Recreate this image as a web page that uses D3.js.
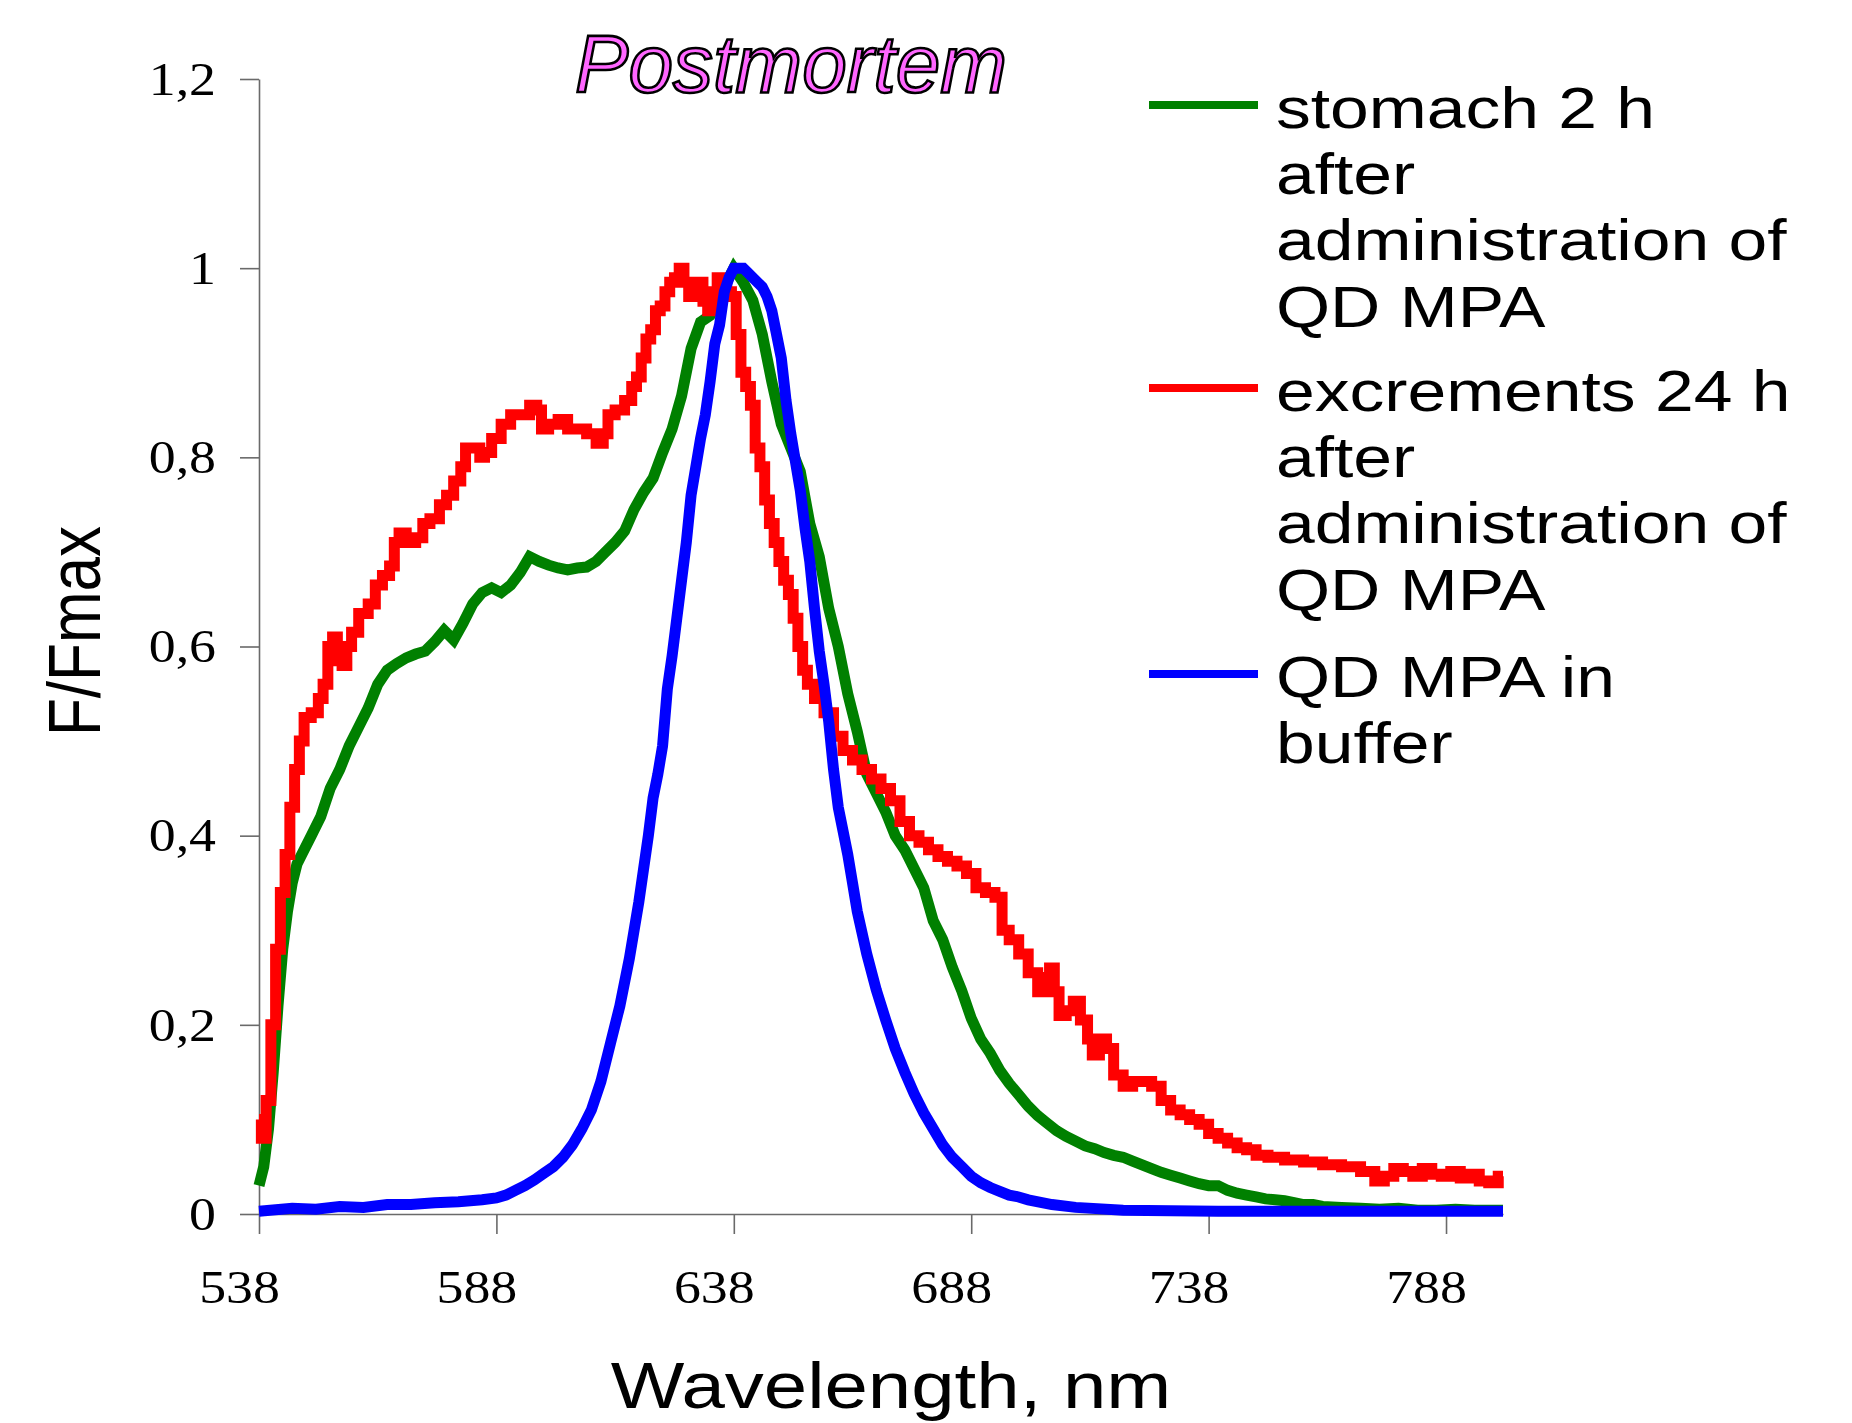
<!DOCTYPE html>
<html>
<head>
<meta charset="utf-8">
<script src="https://cdn.jsdelivr.net/npm/d3@7"></script>
<style>
  body { margin: 0; background: #fff; }
  svg { display: block; }
</style>
</head>
<body>
<svg id="chart"></svg>
<script>
/*
 *  Data: [wavelength nm, F/Fmax]
 */
// stomach 2 h after administration of QD MPA (green)
var stomach = [[538,0.03],[539,0.05],[540,0.09],[541,0.15],[542,0.22],[543,0.28],[544,0.32],[545,0.35],[546,0.37],[547,0.38],
  [549,0.40],[551,0.42],[553,0.45],[555,0.47],[557,0.495],[559,0.515],[561,0.535],[563,0.56],[565,0.575],[567,0.582],
  [569,0.588],[571,0.592],[573,0.595],[575,0.605],[577,0.617],[579,0.607],[581,0.625],[583,0.645],[585,0.657],[587,0.662],
  [589,0.657],[591,0.665],[593,0.678],[595,0.695],[597,0.69],[599,0.686],[601,0.683],[603,0.681],[605,0.683],[607,0.684],
  [609,0.69],[611,0.70],[613,0.71],[615,0.722],[617,0.745],[619,0.763],[621,0.778],[623,0.805],[625,0.83],[627,0.865],
  [629,0.915],[631,0.943],[633,0.95],[635,0.97],[637,0.99],[638,1.0],[640,0.985],[642,0.966],[644,0.93],[646,0.88],
  [648,0.835],[650,0.81],[652,0.785],[654,0.73],[656,0.695],[658,0.64],[660,0.60],[662,0.55],[664,0.51],[666,0.465],
  [668,0.445],[670,0.425],[672,0.40],[674,0.385],[676,0.365],[678,0.345],[680,0.31],[682,0.29],[684,0.261],[686,0.236],
  [688,0.207],[690,0.185],[692,0.17],[694,0.152],[696,0.138],[698,0.126],[700,0.114],[702,0.104],[704,0.096],[706,0.088],
  [708,0.082],[710,0.077],[712,0.072],[714,0.069],[716,0.065],[718,0.062],[720,0.06],[722,0.056],[724,0.052],[726,0.048],
  [728,0.044],[730,0.041],[732,0.038],[734,0.035],[736,0.032],[738,0.03],[740,0.03],[742,0.025],[744,0.022],[746,0.02],
  [748,0.018],[750,0.016],[752,0.015],[754,0.014],[756,0.012],[758,0.01],[760,0.01],[762,0.008],[766,0.007],[770,0.006],
  [774,0.005],[778,0.006],[782,0.004],[786,0.004],[790,0.005],[794,0.004],[800,0.004]];

// excrements 24 h after administration of QD MPA (red)
var excrements = [[538,0.10],[539,0.08],[540,0.12],[541,0.20],[542,0.28],[543,0.34],[544,0.38],[545,0.43],[546,0.47],[547,0.50],
  [548,0.525],[550,0.53],[551,0.545],[552,0.56],[553,0.60],[554,0.61],[555,0.585],[556,0.58],[557,0.60],[558,0.615],
  [560,0.635],[562,0.645],[563,0.665],[565,0.675],[566,0.685],[567,0.71],[568,0.72],[570,0.71],[572,0.715],[573,0.73],
  [575,0.735],[577,0.75],[578,0.76],[580,0.775],[581,0.79],[582,0.81],[584,0.81],[585,0.80],[586,0.805],[588,0.82],
  [590,0.835],[592,0.845],[594,0.845],[596,0.855],[597,0.85],[598,0.83],[600,0.835],[602,0.84],[604,0.83],[606,0.83],
  [608,0.825],[610,0.815],[611,0.825],[612,0.845],[614,0.85],[616,0.86],[617,0.875],[618,0.885],[619,0.905],[620,0.925],
  [621,0.935],[622,0.955],[623,0.96],[624,0.975],[625,0.985],[626,0.99],[627,1.0],[628,0.985],[629,0.97],[630,0.985],
  [631,0.985],[632,0.965],[633,0.955],[634,0.975],[635,0.99],[636,0.985],[637,0.975],[638,0.97],[639,0.93],[640,0.89],
  [641,0.875],[642,0.855],[643,0.81],[644,0.79],[645,0.755],[646,0.73],[647,0.71],[648,0.69],[649,0.67],[650,0.655],
  [651,0.63],[652,0.60],[653,0.575],[654,0.56],[656,0.545],[658,0.53],[660,0.505],[662,0.49],[664,0.48],[666,0.47],
  [668,0.46],[670,0.45],[672,0.437],[674,0.415],[676,0.40],[678,0.393],[680,0.385],[682,0.378],[684,0.373],[686,0.368],
  [688,0.36],[690,0.345],[692,0.34],[694,0.335],[695,0.30],[697,0.29],[699,0.275],[701,0.255],[703,0.235],[704,0.25],
  [705,0.26],[706,0.235],[707,0.21],[709,0.215],[710,0.225],[712,0.205],[713,0.185],[714,0.168],[716,0.185],[717,0.175],
  [719,0.147],[721,0.135],[723,0.14],[725,0.14],[727,0.135],[729,0.12],[731,0.11],[733,0.105],[735,0.10],[737,0.095],
  [739,0.085],[741,0.08],[743,0.075],[745,0.07],[747,0.068],[749,0.062],[752,0.06],[756,0.057],[760,0.055],[764,0.052],
  [768,0.05],[772,0.045],[774,0.035],[776,0.04],[778,0.048],[780,0.045],[782,0.04],[784,0.048],[786,0.042],[788,0.04],
  [790,0.045],[792,0.038],[794,0.042],[796,0.035],[798,0.033],[800,0.04]];

// QD MPA in buffer (blue)
var buffer = [[538,0.003],[545,0.006],[550,0.005],[555,0.008],[560,0.007],[565,0.01],[570,0.01],[575,0.012],[580,0.013],[585,0.015],
  [588,0.017],[590,0.02],[592,0.025],[594,0.03],[596,0.036],[598,0.043],[600,0.05],[602,0.06],[604,0.073],[606,0.09],
  [608,0.11],[610,0.14],[612,0.18],[614,0.22],[616,0.27],[618,0.33],[620,0.40],[621,0.44],[622,0.465],[623,0.495],
  [624,0.555],[625,0.59],[626,0.63],[627,0.67],[628,0.71],[629,0.76],[630,0.79],[631,0.82],[632,0.845],[633,0.88],
  [634,0.92],[635,0.94],[636,0.975],[637,0.99],[638,1.0],[640,1.0],[641,0.995],[642,0.99],[643,0.985],[644,0.98],
  [645,0.97],[646,0.955],[647,0.93],[648,0.905],[649,0.86],[650,0.825],[651,0.795],[652,0.765],[653,0.725],[654,0.69],
  [655,0.64],[656,0.595],[657,0.56],[658,0.52],[659,0.47],[660,0.43],[661,0.405],[662,0.38],[663,0.35],[664,0.32],
  [666,0.275],[668,0.237],[670,0.205],[672,0.175],[674,0.15],[676,0.127],[678,0.107],[680,0.09],[682,0.073],[684,0.06],
  [686,0.05],[688,0.04],[690,0.033],[692,0.028],[694,0.024],[696,0.02],[698,0.018],[700,0.015],[705,0.01],[710,0.007],
  [720,0.004],[740,0.003],[760,0.003],[780,0.003],[800,0.003]];

var seriesNames = [
  ["stomach 2 h", "after", "administration of", "QD MPA"],
  ["excrements 24 h", "after", "administration of", "QD MPA"],
  ["QD MPA in", "buffer"]
];
var seriesColors = ["#008000", "#ff0000", "#0000ff"];

var xTicks = [538, 588, 638, 688, 738, 788];
var yTicks = [0, 0.2, 0.4, 0.6, 0.8, 1, 1.2];

var titleText = "Postmortem";
var xTitle = "Wavelength, nm";
var yTitle = "F/Fmax";

/*
 *  Canvas
 */
var width = 1852,
    height = 1423;

// the picture is stretched sideways, so all text gets widened by this
var stretch = 1.2;

var svg = d3.select("#chart")
            .attr("width", width)
            .attr("height", height);

var x = d3.scaleLinear().domain([538, 800]).range([259, 1503]);
var y = d3.scaleLinear().domain([0, 1.2]).range([1214, 79]);

var serif = "'Liberation Serif', 'Times New Roman', serif";
var sans = "'Liberation Sans', Arial, sans-serif";

// y axis
var yAxis = svg.append("g")
  .attr("transform", "translate(" + x(538) + ",0)")
  .call(d3.axisLeft(y)
    .tickValues(yTicks)
    .tickSize(19)
    .tickSizeOuter(0)
    .tickFormat(function(d) { return String(d).replace(".", ","); }));

yAxis.selectAll("text")
  .attr("x", 0)
  .attr("dy", "0.33em")
  .attr("transform", "translate(-43,0) scale(1.17,1)")
  .style("font-family", serif)
  .style("font-size", "46px")
  .attr("fill", "#000");

// x axis
var xAxis = svg.append("g")
  .attr("transform", "translate(0," + y(0) + ")")
  .call(d3.axisBottom(x)
    .tickValues(xTicks)
    .tickSize(20)
    .tickSizeOuter(0));

xAxis.selectAll("text")
  .attr("y", 0)
  .attr("dy", 0)
  .attr("transform", "translate(-20,89) scale(1.17,1)")
  .style("font-family", serif)
  .style("font-size", "46px")
  .attr("fill", "#000");

svg.selectAll(".domain, .tick line")
  .attr("stroke", "#6a6a6a")
  .attr("stroke-width", 1.6);

/*
 *  Curves
 */
// red is drawn as steps, the other two straight between readings
var curves = [d3.curveLinear, d3.curveStep, d3.curveLinear];
var series = [stomach, excrements, buffer];

svg.append("g")
  .selectAll("path")
  .data(series)
  .enter().append("path")
    .attr("d", function(d, i) {
      return d3.line()
        .x(function(p) { return x(p[0]); })
        .y(function(p) { return y(p[1]); })
        .curve(curves[i])(d);
    })
    .attr("fill", "none")
    .attr("stroke", function(d, i) { return seriesColors[i]; })
    .attr("stroke-width", 11)
    .attr("stroke-linejoin", "miter")
    .attr("stroke-miterlimit", 2);

/*
 *  Legend
 */
var legendTop = [128, 411, 697];
var lineGap = 66.2;

var legend = svg.append("g")
  .selectAll("g")
  .data(seriesNames)
  .enter().append("g");

legend.append("line")
  .attr("x1", 1149).attr("x2", 1258)
  .attr("y1", function(d, i) { return legendTop[i] - 23; })
  .attr("y2", function(d, i) { return legendTop[i] - 23; })
  .attr("stroke", function(d, i) { return seriesColors[i]; })
  .attr("stroke-width", 8);

legend.each(function(d, i) {
  d3.select(this).selectAll("text")
    .data(d)
    .enter().append("text")
      .attr("transform", function(t, j) {
        return "translate(1276," + (legendTop[i] + j * lineGap) + ") scale(" + stretch + ",1)";
      })
      .style("font-family", sans)
      .style("font-size", "58px")
      .attr("fill", "#000")
      .text(function(t) { return t; });
});

/*
 *  Titles
 */
svg.append("text")
  .attr("x", 575)
  .attr("y", 92)
  .attr("textLength", 432)
  .attr("lengthAdjust", "spacingAndGlyphs")
  .style("font-family", sans)
  .style("font-style", "italic")
  .style("font-size", "82px")
  .attr("fill", "#ff66ff")
  .attr("stroke", "#000")
  .attr("stroke-width", 2.6)
  .text(titleText);

svg.append("text")
  .attr("transform", "translate(891,1408) scale(" + stretch + ",1)")
  .attr("text-anchor", "middle")
  .style("font-family", sans)
  .style("font-size", "65px")
  .attr("fill", "#000")
  .text(xTitle);

svg.append("text")
  .attr("transform", "translate(100,631) scale(" + stretch + ",1) rotate(-90)")
  .attr("text-anchor", "middle")
  .style("font-family", sans)
  .style("font-size", "62px")
  .attr("fill", "#000")
  .text(yTitle);
</script>
</body>
</html>
